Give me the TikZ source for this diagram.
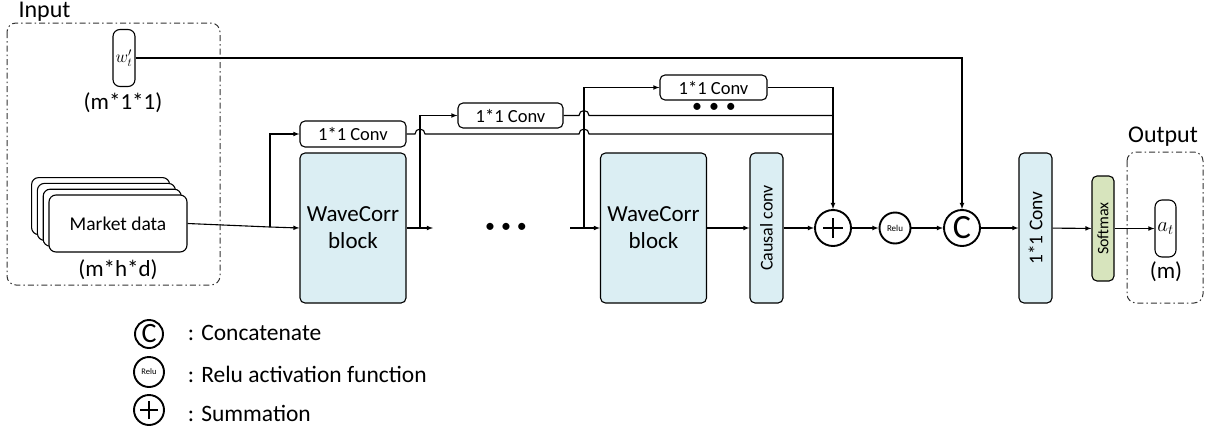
\documentclass[tikz,border=0pt]{standalone}
\usepackage{fontspec}
\setmainfont{Carlito}
\usepackage{amsmath}
\definecolor{blockblue}{HTML}{DBEEF3}
\definecolor{softgreen}{HTML}{D7E4BD}

\begin{document}
\begin{tikzpicture}[x=1pt, y=-1pt, >=latex, line width=1.1pt,
  box/.style={draw, rounded corners=5pt, inner sep=0pt, font=\fontsize{18.5}{20}\selectfont},
  block/.style={box, fill=blockblue, minimum width=106pt, minimum height=150pt, align=center, font=\fontsize{23}{27}\selectfont},
  op/.style={draw, circle, line width=1.9pt, inner sep=0pt},
  frame/.style={draw, rounded corners=9pt, line width=1pt, black!80, dash pattern=on 6pt off 3pt on 1.5pt off 3pt},
  dim/.style={font=\fontsize{23}{25}\selectfont},
  dots/.style={font=\fontsize{20}{20}\selectfont, inner sep=0pt}
]
\useasboundingbox (0,0) rectangle (1222,442);

% input
\draw[frame] (7,23) rectangle (220,285);
\node[anchor=base west, inner sep=0pt, font=\fontsize{24}{26}\selectfont] (inlab) at (18,17) {Input};
\node[box, minimum width=22pt, minimum height=57pt, rounded corners=7pt] (w) at (124,58) {$w'_t$};
\node[dim] (wdim) at (123,103) {(m*1*1)};

\foreach \i in {3,2,1}
  \draw[fill=white, rounded corners=7pt] ({49-5.8*\i},{195-5.8*\i}) rectangle ++(138,57);
\node[box, fill=white, minimum width=138pt, minimum height=57pt, rounded corners=7pt, font=\fontsize{19.5}{21}\selectfont] (md) at (118,223.5) {Market data};
\node[dim] (mddim) at (118,270) {(m*h*d)};

% blocks
\node[box, minimum width=106pt, minimum height=26pt] (conv1) at (353,134) {1*1 Conv};
\node[block] (wc1) at (353,228) {WaveCorr\\block};
\node[box, minimum width=105pt, minimum height=25pt] (conv2) at (510.5,115.5) {1*1 Conv};
\node[dots] (dots1) at (506,228) {•\kern6pt•\kern6pt•};
\node[box, minimum width=107pt, minimum height=25pt] (conv3) at (713.5,87.5) {1*1 Conv};
\node[dots] (dots2) at (714,108) {•\kern7pt•\kern7pt•};
\node[block] (wc2) at (653.5,228) {WaveCorr\\block};
\node[box, fill=blockblue, rotate=90, minimum width=150pt, minimum height=33pt, font=\fontsize{18}{20}\selectfont] (causal) at (766.5,228) {Causal conv};

\node[op, minimum size=36pt] (sum) at (833,228) {};
\draw[line width=2.2pt] ([xshift=-10pt]sum.center) -- ([xshift=10pt]sum.center)
  ([yshift=-10pt]sum.center) -- ([yshift=10pt]sum.center);
\node[op, minimum size=31pt, font=\fontsize{9}{9}\selectfont] (relu) at (895,228) {Relu};
\node[op, minimum size=36pt, font=\fontsize{34}{34}\selectfont] (cat) at (962,228) {C};

\node[box, fill=blockblue, rotate=90, minimum width=150pt, minimum height=33pt, font=\fontsize{19.5}{22}\selectfont] (conv4) at (1035.5,228) {1*1 Conv};
\node[box, fill=softgreen, rotate=90, minimum width=105pt, minimum height=22pt, font=\fontsize{16}{17}\selectfont] (soft) at (1103,228.5) {Softmax};

% output
\draw[frame] (1127,152) rectangle (1203,303);
\node[anchor=base, inner sep=0pt, font=\fontsize{24}{26}\selectfont] (outlab) at (1163,142) {Output};
\node[box, minimum width=21pt, minimum height=57pt, rounded corners=7pt, font=\fontsize{22}{24}\selectfont] (at) at (1165.5,228.5) {$a_t$};
\node[dim] (atdim) at (1166,272) {(m)};

% connectors
\coordinate (b1) at (270,227);
\coordinate (b2) at (420,228);
\coordinate (m1) at (433,228);
\coordinate (m2) at (570,228);
\coordinate (b3) at (584,228);

\draw (md.east) -- (b1);
\draw[->] (b1) -- (wc1.west);
\draw[->] (b1) |- (conv1.west);
\draw[->] (wc1.east) -- (m1);
\draw[->] (b2) |- (conv2.west);
\draw[->] (m2) -- (wc2.west);
\draw[->] (b3) |- (conv3.west);
\draw[->] (wc2) -- (causal);
\draw[->] (causal) -- (sum);
\draw[->] (sum) -- (relu);
\draw[->] (relu) -- (cat);
\draw[->] (cat) -- (conv4);
\draw[->] (conv4) -- (soft);
\draw[->] (soft) -- (at);

\draw[->] (w.east) -| (cat.north);
\draw[->] (conv3.east) -| (sum.north);
\draw (conv2.east) -- (579,115.5) arc[start angle=180, end angle=0, radius=5pt] -- (sum.north |- conv2.east);
\draw (conv1.east) -- (415,134) arc[start angle=180, end angle=0, radius=5pt]
  -- (579,134) arc[start angle=180, end angle=0, radius=5pt] -- (sum.north |- conv1.east);

% legend
\node[op, minimum size=28pt, font=\fontsize{28}{28}\selectfont] (lcat) at (149,334) {C};
\node[anchor=west, font=\fontsize{23.5}{25}\selectfont] (tcat) at (184,333) {: Concatenate};
\node[op, minimum size=30pt, font=\fontsize{8.5}{8.5}\selectfont] (lrelu) at (149,372) {Relu};
\node[anchor=west, font=\fontsize{23.5}{25}\selectfont] (trelu) at (184,374) {: Relu activation function};
\node[op, minimum size=30pt] (lsum) at (149,410) {};
\draw[line width=2.2pt] ([xshift=-9pt]lsum.center) -- ([xshift=9pt]lsum.center)
  ([yshift=-9pt]lsum.center) -- ([yshift=9pt]lsum.center);
\node[anchor=west, font=\fontsize{23.5}{25}\selectfont] (tsum) at (184,413) {: Summation};
\end{tikzpicture}
\end{document}
